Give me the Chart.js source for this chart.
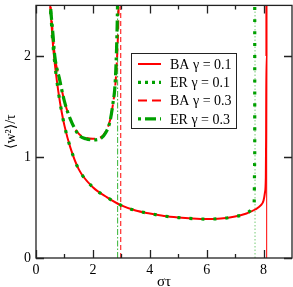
<!DOCTYPE html>
<html><head><meta charset="utf-8">
<script src="https://cdn.jsdelivr.net/npm/chart.js@4"></script>
<style>html,body{margin:0;padding:0;background:#fff}#c{display:block}</style>
</head><body>
<canvas id="c" width="293" height="287"></canvas>
<script>
// ---- data ----
const baG01x = [0.45,0.5,0.55,0.6,0.7,0.8,0.9,1.0,1.2,1.5,2.0,2.5,3.0,3.5,4.0,4.5,5.0,5.5,6.0,6.5,7.0,7.4,7.7,7.9,8.0,8.05,8.08,8.09,8.1,8.1];
const baG01y = [2.8,2.5,2.3,2.1,1.83,1.62,1.45,1.31,1.1,0.88,0.70,0.6,0.52,0.47,0.44,0.415,0.40,0.39,0.385,0.39,0.41,0.44,0.48,0.52,0.57,0.65,0.8,1.2,2.0,2.8];
const erG01x = [0.45,0.5,0.55,0.6,0.7,0.8,0.9,1.0,1.2,1.5,2.0,2.5,3.0,3.5,4.0,4.5,5.0,5.5,6.0,6.5,7.0,7.3,7.5,7.62,7.67,7.69,7.69];
const erG01y = [2.8,2.5,2.3,2.1,1.83,1.62,1.45,1.31,1.1,0.88,0.70,0.6,0.52,0.47,0.44,0.415,0.40,0.39,0.385,0.39,0.41,0.43,0.46,0.50,0.55,1.0,2.8];
const baG03x = [0.45,0.5,0.6,0.66,0.82,1.0,1.2,1.5,1.75,2.0,2.25,2.45,2.6,2.72,2.8,2.86,2.9,2.92];
const baG03y = [2.9,2.55,2.2,2.0,1.78,1.55,1.38,1.23,1.19,1.18,1.19,1.25,1.36,1.55,1.75,2.05,2.4,2.8];
const erG03x = [0.45,0.5,0.6,0.66,0.82,1.0,1.2,1.5,1.75,2.0,2.25,2.45,2.6,2.7,2.78,2.83,2.86,2.88];
const erG03y = [2.9,2.55,2.2,2.0,1.78,1.55,1.38,1.22,1.18,1.17,1.18,1.24,1.35,1.52,1.72,2.05,2.4,2.8];
const asymX = {baG01:8.11, erG01:7.70, baG03:2.98, erG03:2.87};
const labels = ["BA γ = 0.1","ER γ = 0.1","BA γ = 0.3","ER γ = 0.3"];
const xTicks = [0,2,4,6,8];
const yTicks = [0,1,2];

const RED = '#ff0000', GREEN = '#00a000';
const pts = (xs, ys) => xs.map((x,i)=>({x, y: ys[i]}));
const vline = x => [{x, y:0},{x, y:2.5}];

const styles = [
  {color:RED, w:2, dash:[], ldash:[], order:2},
  {color:GREEN, w:3.2, dash:[3,9], ldash:[3,4], order:0},
  {color:RED, w:2, dash:[9,5], ldash:[9,5], order:3},
  {color:GREEN, w:3.2, dash:[11,4,3,4], ldash:[3,4,11,4], order:1}
];
const curves = [pts(baG01x,baG01y), pts(erG01x,erG01y), pts(baG03x,baG03y), pts(erG03x,erG03y)];
const asym = [asymX.baG01, asymX.erG01, asymX.baG03, asymX.erG03];
const thinDash = [[],[1.5,2],[5,3],[6,2,1.5,2]];
const thinCol = ['#ff0000','rgba(0,160,0,0.55)','#ff0000','rgba(0,160,0,0.8)'];

const datasets = [];
asym.forEach((x,i)=>datasets.push({data:vline(x), order:5, borderColor:thinCol[i], borderWidth:1, borderDash:thinDash[i], pointRadius:0, fill:false, tension:0}));
curves.forEach((d,i)=>datasets.push({label:labels[i], data:d, order:styles[i].order, borderColor:styles[i].color, borderWidth:styles[i].w, borderDash:styles[i].dash, pointRadius:0, fill:false, cubicInterpolationMode:'monotone', tension:0.4}));

const framePlugin = {
  id:'frame',
  afterDatasetsDraw(chart){
    const {ctx, chartArea:a, scales:{x, y}} = chart;
    ctx.save();
    ctx.strokeStyle = '#222'; ctx.lineWidth = 1.3; ctx.setLineDash([]);
    ctx.strokeRect(a.left, a.top, a.right-a.left, a.bottom-a.top);
    ctx.beginPath();
    [0,1,2,3,4,5,6,7,8].forEach(v=>{
      const px = Math.round(x.getPixelForValue(v))+0.5;
      const L = v%2===0 ? 8 : 4;
      ctx.moveTo(px, a.bottom); ctx.lineTo(px, a.bottom-L);
      ctx.moveTo(px, a.top); ctx.lineTo(px, a.top+L);
    });
    yTicks.forEach(v=>{
      const py = Math.round(y.getPixelForValue(v))+0.5;
      ctx.moveTo(a.left, py); ctx.lineTo(a.left+8, py);
      ctx.moveTo(a.right, py); ctx.lineTo(a.right-8, py);
    });
    ctx.stroke();
    // legend
    const L = {x:131, y:53, w:105, h:75};
    ctx.fillStyle = '#fff'; ctx.fillRect(L.x, L.y, L.w, L.h);
    ctx.strokeStyle = '#222'; ctx.lineWidth = 1; ctx.strokeRect(L.x+0.5, L.y+0.5, L.w, L.h);
    ctx.font = '14px "Liberation Serif", "DejaVu Serif", serif';
    ctx.textBaseline = 'middle'; ctx.textAlign = 'left';
    labels.forEach((lab,i)=>{
      const ry = L.y + 11 + i*18.3;
      ctx.strokeStyle = styles[i].color; ctx.lineWidth = styles[i].w;
      ctx.setLineDash(styles[i].ldash);
      ctx.beginPath(); ctx.moveTo(138, ry); ctx.lineTo(161, ry); ctx.stroke();
      ctx.setLineDash([]);
      ctx.fillStyle = '#000'; ctx.fillText(lab, 170, ry+1);
    });
    ctx.restore();
  }
};

const serif = '"Liberation Serif", "DejaVu Serif", serif';
new Chart(document.getElementById('c'), {
  type:'line',
  data:{datasets},
  options:{
    responsive:false, animation:false, devicePixelRatio:1,
    layout:{padding:{top:3, right:1, left:0, bottom:0}},
    plugins:{legend:{display:false}, tooltip:{enabled:false}},
    scales:{
      x:{type:'linear', min:0, max:9,
        grid:{display:false}, border:{display:false},
        ticks:{stepSize:2, includeBounds:false, color:'#000', padding:-4, font:{family:serif, size:14}, maxRotation:0},
        title:{display:true, text:'στ', color:'#000', font:{family:serif, size:15}, padding:{top:0, bottom:-4}},
        afterFit(s){ s.height = 29; }
      },
      y:{type:'linear', min:0, max:2.5,
        grid:{display:false}, border:{display:false},
        ticks:{stepSize:1, includeBounds:false, color:'#000', padding:-3, font:{family:serif, size:14}},
        title:{display:true, text:'⟨w²⟩/τ', color:'#000', font:{family:serif, size:14}, padding:{top:3, bottom:0}},
        afterFit(s){ s.width = 36; }
      }
    }
  },
  plugins:[framePlugin]
});
</script>
</body></html>
